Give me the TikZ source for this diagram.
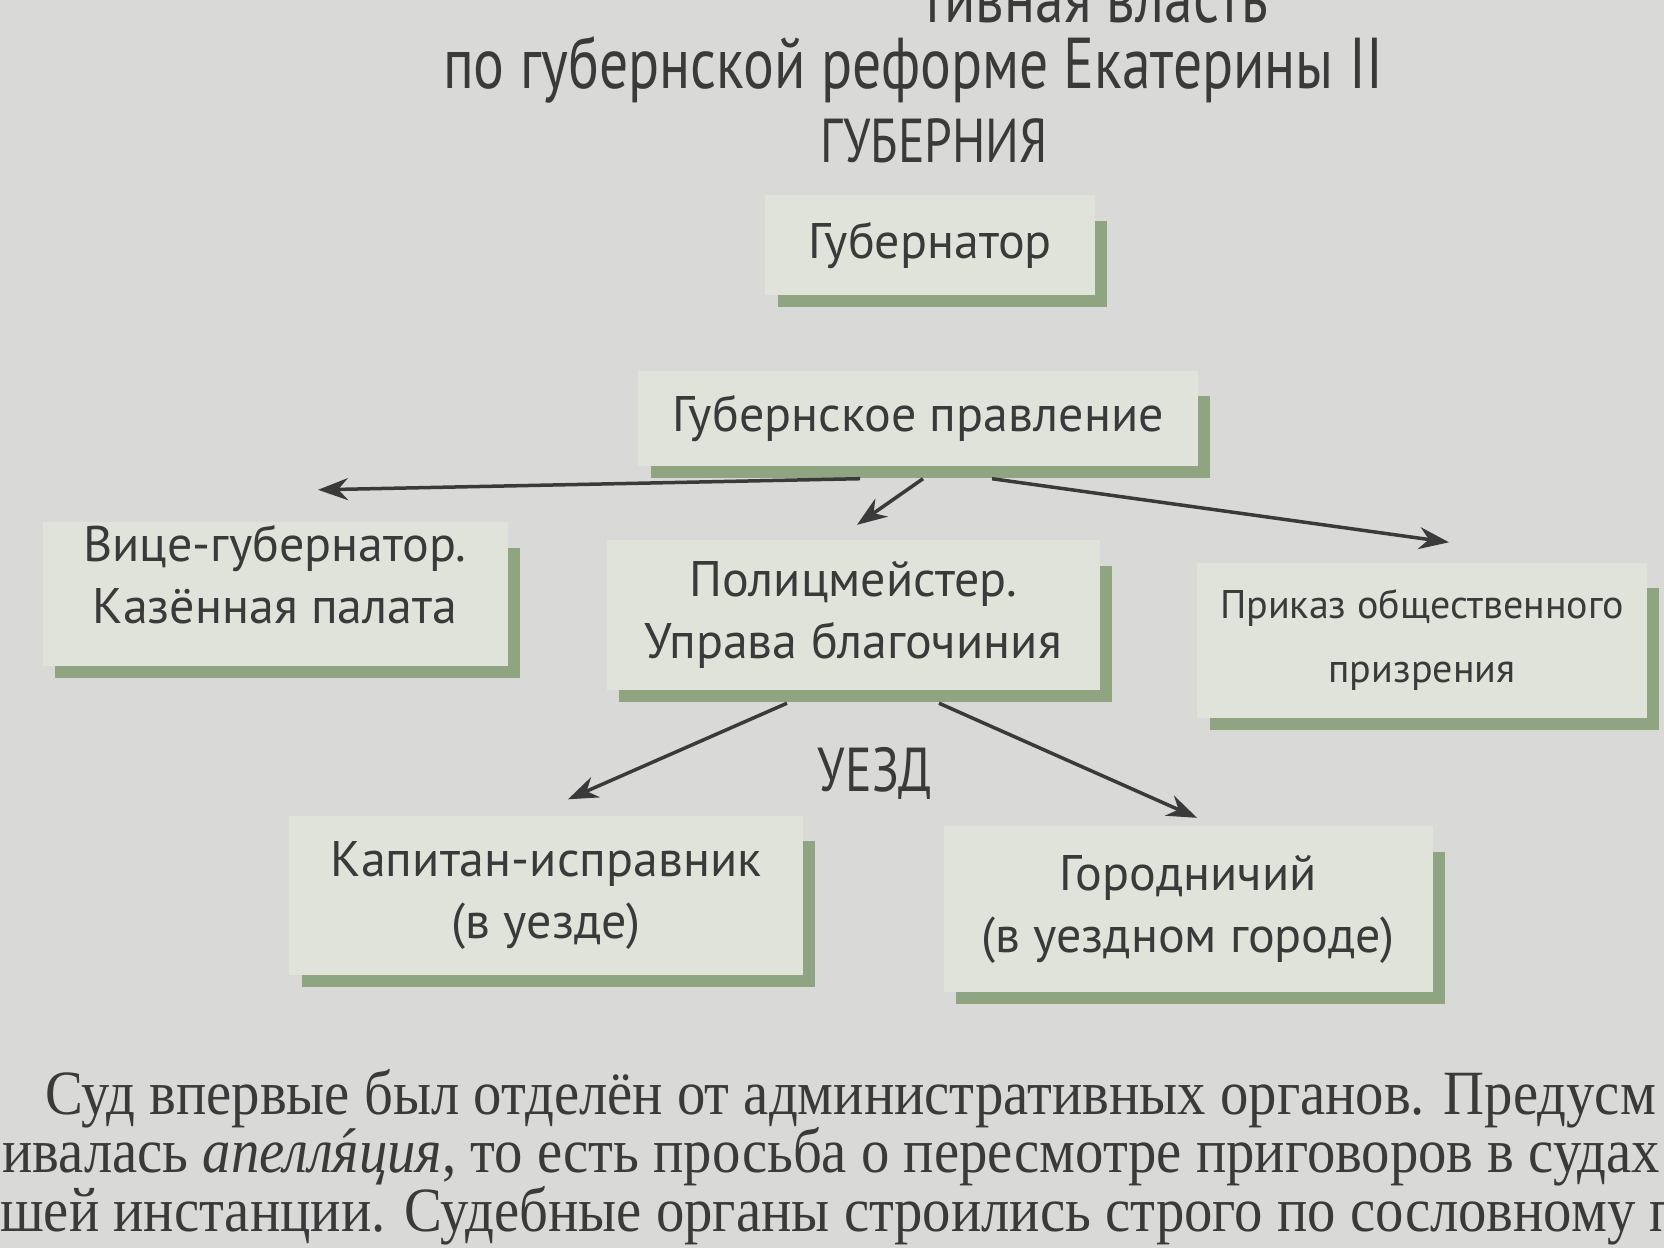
\documentclass[tikz,border=0pt]{standalone}
\usepackage{fontspec}
\setmainfont{PT Sans}
\newfontfamily\boxfont{PT Sans}
\newfontfamily\headfont[FakeStretch=0.8]{PT Sans}
\newfontfamily\bodyfont[FakeStretch=0.9]{Liberation Serif}
\usetikzlibrary{arrows.meta,calc}

\definecolor{paper}{HTML}{D9D9D7}
\definecolor{boxfill}{HTML}{DFE3D9}
\definecolor{edgegreen}{HTML}{8FA481}
\definecolor{ink}{HTML}{3A3A3A}

\tikzset{
	orgbox/.style={fill=boxfill, inner sep=0pt, align=center, text=ink,
		font=\boxfont\fontsize{50}{62}\selectfont},
	headtext/.style={text=ink, inner sep=0pt, font=\headfont\fontsize{62}{64}\selectfont},
	bodytext/.style={text=ink, inner sep=0pt, anchor=base west, font=\bodyfont\fontsize{63}{70}\selectfont},
	link/.style={draw=ink, line width=3.5pt, -{Stealth[length=30pt,width=22pt]}},
	greenedge/.style={draw=edgegreen, line width=12pt}
}
\newcommand{\cornerL}[1]{%
	\draw[greenedge] ($(#1.south west)+(13,6)$) -- ($(#1.south east)+(6,6)$) -- ($(#1.north east)+(6,26)$);}

\begin{document}
\begin{tikzpicture}[x=1pt,y=-1pt]
	\useasboundingbox (0,0) rectangle (1664,1248);
	\fill[paper] (0,0) rectangle (1664,1248);
	\clip (0,0) rectangle (1664,1248);

	\node[headtext, anchor=base east, font=\headfont\fontsize{72}{74}\selectfont] (title1) at (1268,22) {тивная власть};
	\node[headtext, anchor=base, font=\headfont\fontsize{72}{74}\selectfont] (title2) at (913,88) {по губернской реформе Екатерины II};
	\node[headtext] (gubernia) at (934,141) {ГУБЕРНИЯ};

	\node[orgbox, minimum width=330pt, minimum height=100pt] (guber) at (930,245) {Губернатор};
	\node[orgbox, minimum width=560pt, minimum height=95pt] (pravl) at (918,418) {Губернское правление};
	\node[orgbox, minimum width=465pt, minimum height=144pt, text depth=40pt] (vice) at (275,594) {Вице-губернатор.\\Казённая палата};
	\node[orgbox, minimum width=493pt, minimum height=150pt] (police) at (853,615) {Полицмейстер.\\Управа благочиния};
	\node[orgbox, minimum width=450pt, minimum height=155pt, font=\boxfont\fontsize{40}{64}\selectfont] (prikaz) at (1422,640) {Приказ общественного\\призрения};
	\node[headtext] (uezd) at (875,773) {УЕЗД};
	\node[orgbox, minimum width=514pt, minimum height=159pt] (kapitan) at (546,895) {Капитан-исправник\\(в уезде)};
	\node[orgbox, minimum width=489pt, minimum height=166pt] (gorod) at (1188,909) {Городничий\\(в уездном городе)};

	\cornerL{guber}
	\cornerL{pravl}
	\cornerL{vice}
	\cornerL{police}
	\cornerL{prikaz}
	\cornerL{kapitan}
	\cornerL{gorod}

	\draw[draw=ink, line width=3.5pt] ($(guber.south)+(3,12)$) -- ($(guber.south)+(3,12)$ |- pravl.north);
	\draw[link] ($(pravl.south)+(-58,13)$) -- ($(vice.north)+(43,-32)$);
	\draw[link] ($(pravl.south)+(5,13)$) -- ($(police.north)+(4,-15)$);
	\draw[link] ($(pravl.south)+(74,13)$) -- ($(prikaz.north)+(27,-20)$);
	\draw[link] ($(police.south)+(-66,13)$) -- ($(kapitan.north)+(22,-16)$);
	\draw[link] ($(police.south)+(86,13)$) -- ($(gorod.north)+(9,-8)$);

	\node[bodytext] (body1) at (45,1114) {Суд впервые был отделён от административных органов. Предусм};
	\node[bodytext] (body2) at (2,1172) {ивалась {\itshape апелл{\accent"00B4 я}ция}, то есть просьба о пересмотре приговоров в судах};
	\node[bodytext] (body3) at (0,1231) {шей инстанции. Судебные органы строились строго по сословному п};
\end{tikzpicture}
\end{document}
